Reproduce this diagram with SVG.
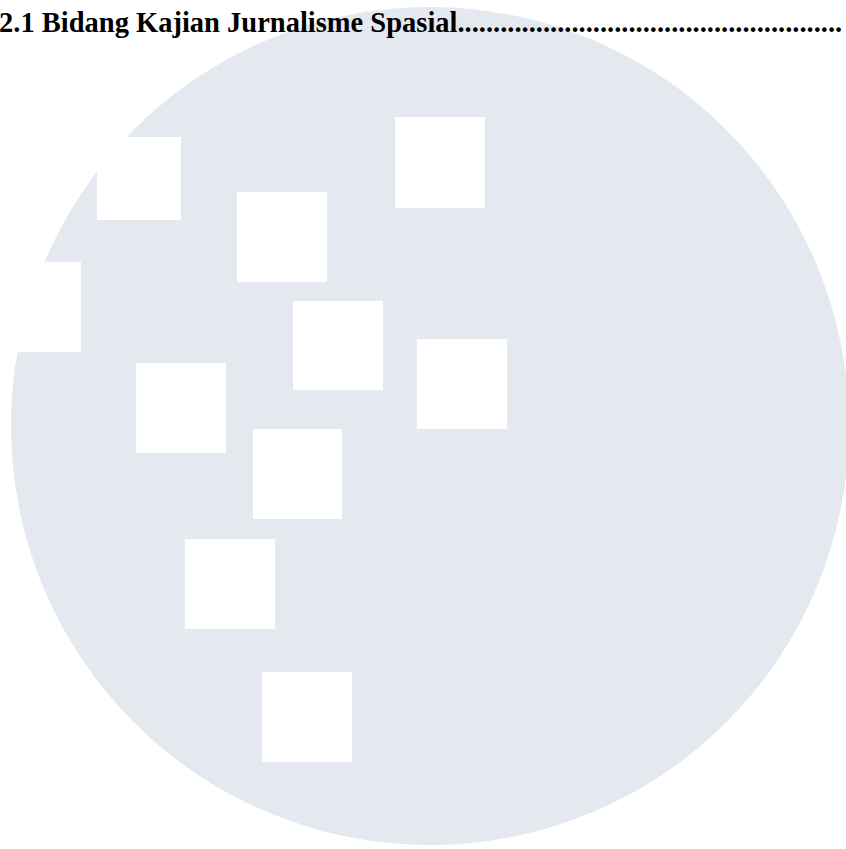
<svg xmlns="http://www.w3.org/2000/svg" width="846" height="849" viewBox="0 0 846 849">
<style>
.bg{fill:#ffffff}
.disc{fill:#e4e8ef}
.sq{fill:#ffffff}
.title{font-family:"Liberation Serif","Times New Roman",serif;font-weight:bold;font-size:28.5px;fill:#000000}
</style>
<rect class="bg" x="0" y="0" width="846" height="849"/>
<g id="disc"><circle class="disc" cx="430" cy="426" r="419"/></g>
<g id="squares">
<rect id="sq1" class="sq" x="97" y="137" width="84" height="83"/>
<rect id="sq2" class="sq" x="-9" y="262" width="90" height="90"/>
<rect id="sq3" class="sq" x="237" y="192" width="90" height="90"/>
<rect id="sq4" class="sq" x="395" y="117" width="90" height="91"/>
<rect id="sq5" class="sq" x="417" y="339" width="90" height="90"/>
<rect id="sq6" class="sq" x="293" y="301" width="90" height="89"/>
<rect id="sq7" class="sq" x="136" y="363" width="90" height="90"/>
<rect id="sq8" class="sq" x="253" y="429" width="89" height="90"/>
<rect id="sq9" class="sq" x="185" y="539" width="90" height="90"/>
<rect id="sq10" class="sq" x="262" y="672" width="90" height="90"/>
</g>
<g id="heading"><text class="title" x="-1" y="32">2.1 Bidang Kajian Jurnalisme Spasial......................................................</text></g>
</svg>
